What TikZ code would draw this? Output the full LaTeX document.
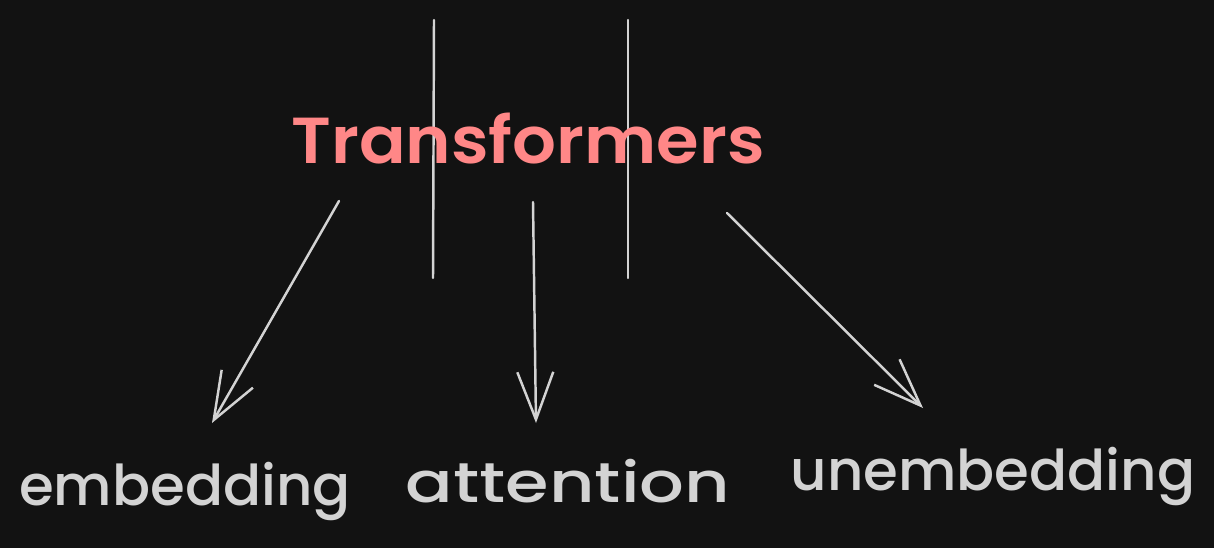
\documentclass[tikz,border=0pt]{standalone}
\usepackage{fontspec}
\setmainfont{Poppins}
\newfontfamily\medfont{Poppins Medium}
\newfontfamily\semifont{Poppins SemiBold}
\usetikzlibrary{arrows.meta}
\definecolor{bg}{HTML}{121212}
\definecolor{ink}{HTML}{D3D3D3}
\definecolor{salmon}{HTML}{FF8787}
\tikzset{
  wire/.style={draw=ink, line width=1.4pt, line cap=round},
  arr/.style={wire, -{Straight Barb[length=0.95cm, width=0.72cm, line width=1.4pt]}},
  lbl/.style={text=ink, inner sep=0pt, anchor=base, font=\medfont\fontsize{32}{36}\selectfont},
  ttl/.style={text=salmon, inner sep=0pt, anchor=base, font=\semifont\fontsize{37}{40}\selectfont}
}
\begin{document}
\begin{tikzpicture}[x=0.02cm, y=-0.02cm]
\fill[bg] (0,0) rectangle (1214,548);
\useasboundingbox (0,0) rectangle (1214,548);
% vertical lines
\coordinate (v1t) at (434,20);
\coordinate (v1b) at (433,278);
\coordinate (v2t) at (628,20);
\coordinate (v2b) at (628,278);
\draw[wire] (v1t) -- (v1b);
\draw[wire] (v2t) -- (v2b);
% title
\node[ttl, xscale=1.06] (title) at (528,163) {Transformers};
% labels
\node[lbl] (emb) at (185,505) {embedding};
\node[lbl, xscale=1.25] (att) at (568,502) {attention};
\node[lbl] (unemb) at (993,490) {unembedding};
% arrows
\coordinate (a1s) at (339,201);
\coordinate (a1e) at (212,423);
\coordinate (a2s) at (533,202);
\coordinate (a2e) at (536,423);
\coordinate (a3s) at (727,213);
\coordinate (a3e) at (923,408);
\draw[arr] (a1s) -- (a1e);
\draw[arr] (a2s) -- (a2e);
\draw[arr] (a3s) -- (a3e);
\end{tikzpicture}
\end{document}
